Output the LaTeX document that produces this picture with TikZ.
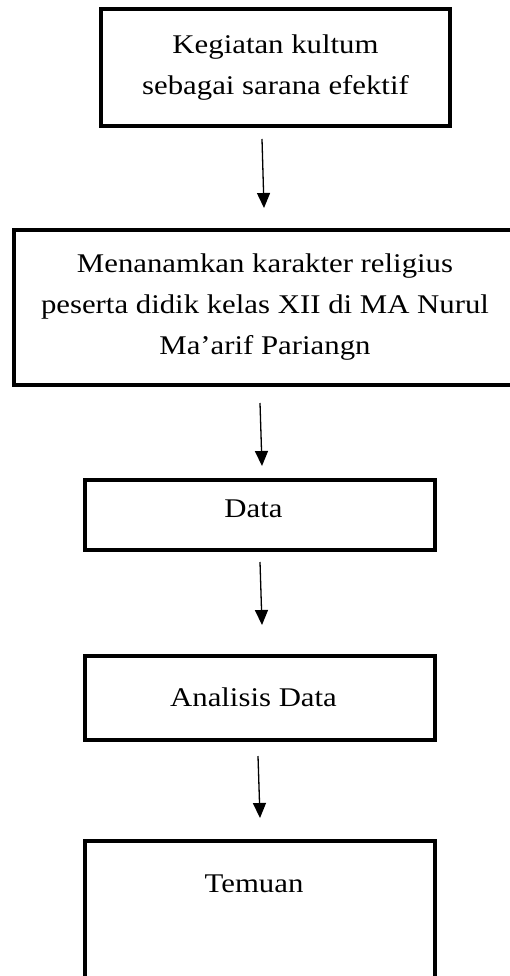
\documentclass[tikz,border=0pt]{standalone}
\usepackage{fontspec}
\setmainfont[FakeStretch=1.14]{Liberation Serif}
\usetikzlibrary{arrows.meta}
\begin{document}
\begin{tikzpicture}[x=1pt,y=-1pt,
  box/.style={draw, line width=4pt, inner sep=0pt, font=\fontsize{27}{41}\selectfont},
  arr/.style={line width=1.3pt, -{Triangle[width=13pt,length=15pt]}}]
\useasboundingbox (0,0) rectangle (510,976);
\clip (0,0) rectangle (510,976);
\node[box, minimum width=349pt, minimum height=117pt, align=center] (b1) at (275.5,67.5) {Kegiatan kultum\\sebagai sarana efektif};
\node[box, minimum width=502pt, minimum height=155pt, align=center] (b2) at (265,307.5) {Menanamkan karakter religius\\peserta didik kelas XII di MA Nurul\\Ma’arif Pariangn};
\node[box, minimum width=350pt, text height=37pt, text depth=33pt] (b3) at (260,515) {Data\kern13pt};
\node[box, minimum width=350pt, text height=50pt, text depth=34pt] (b4) at (260,698) {Analisis Data\kern13pt};
\node[box, minimum width=350pt, text height=51pt, text depth=98pt] (b5) at (260,915.5) {Temuan\kern12pt};
\draw[arr] ([xshift=-13.5pt,yshift=-11pt]b1.south) -- ([xshift=-1pt,yshift=20pt]b2.north);
\draw[arr] ([xshift=-5pt,yshift=-16pt]b2.south) -- ([xshift=2pt,yshift=12pt]b3.north);
\draw[arr] ([yshift=-10pt]b3.south) -- ([xshift=2pt,yshift=29pt]b4.north);
\draw[arr] ([xshift=-2pt,yshift=-14pt]b4.south) -- ([yshift=21pt]b5.north);
\end{tikzpicture}
\end{document}
